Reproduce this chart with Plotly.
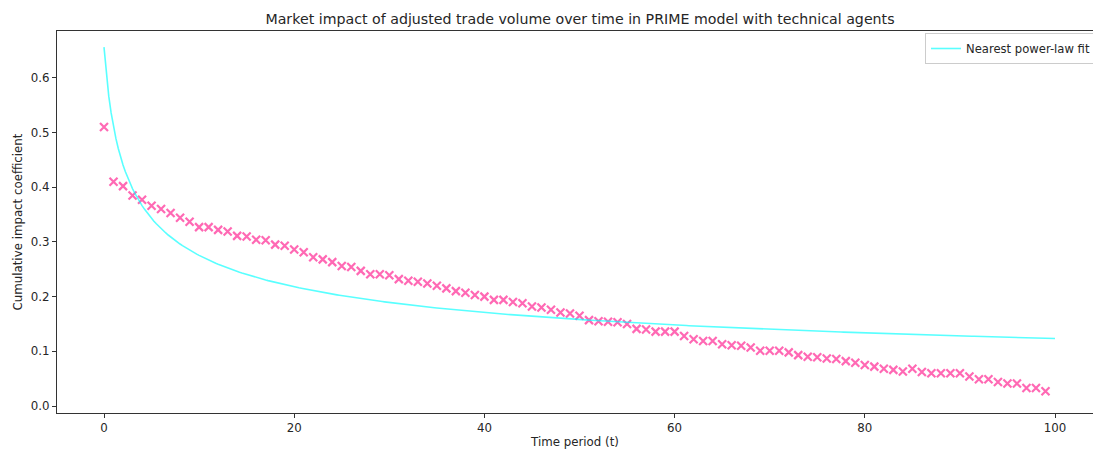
import numpy as np
import plotly.graph_objects as go

# Time periods for the observed coefficients
time_period = list(range(100))

# Observed cumulative impact coefficient per period
impact = [
    0.510, 0.410, 0.402, 0.385, 0.377, 0.366, 0.360, 0.353, 0.344, 0.337,
    0.327, 0.327, 0.322, 0.319, 0.311, 0.310, 0.304, 0.303, 0.295, 0.293,
    0.286, 0.281, 0.272, 0.268, 0.263, 0.256, 0.254, 0.247, 0.241, 0.241,
    0.239, 0.232, 0.229, 0.227, 0.224, 0.220, 0.215, 0.210, 0.207, 0.203,
    0.200, 0.194, 0.194, 0.190, 0.188, 0.182, 0.180, 0.176, 0.171, 0.169,
    0.165, 0.157, 0.155, 0.154, 0.153, 0.150, 0.141, 0.140, 0.136, 0.136,
    0.136, 0.128, 0.122, 0.119, 0.119, 0.113, 0.111, 0.110, 0.107, 0.101,
    0.101, 0.101, 0.098, 0.093, 0.090, 0.089, 0.087, 0.086, 0.082, 0.079,
    0.075, 0.072, 0.068, 0.066, 0.063, 0.068, 0.062, 0.060, 0.060, 0.060,
    0.060, 0.054, 0.049, 0.049, 0.044, 0.041, 0.041, 0.033, 0.033, 0.027,
]

# Nearest power-law fit: amplitude * (t + 1) ** (-exponent)
FIT_AMPLITUDE = 0.656
FIT_EXPONENT = 0.362
fit_t = np.linspace(0, 100, 401)
fit_values = FIT_AMPLITUDE * (fit_t + 1) ** (-FIT_EXPONENT)

x_ticks = [0, 20, 40, 60, 80, 100]
y_ticks = [0.0, 0.1, 0.2, 0.3, 0.4, 0.5, 0.6]

FONT = "DejaVu Sans"
TEXT_COLOR = "#262626"
AXIS_COLOR = "#333333"
SMALL = 11.8

fig = go.Figure()

fig.add_trace(go.Scatter(
    x=time_period, y=impact, mode="markers",
    marker=dict(symbol="x-thin", size=8, color="rgba(255,105,180,0)",
                line=dict(color="#ff69b4", width=2.2)),
    showlegend=False, hoverinfo="x+y",
))

fig.add_trace(go.Scatter(
    x=fit_t, y=fit_values, mode="lines",
    line=dict(color="rgba(0,255,255,0.65)", width=1.6),
    name="Nearest power-law fit",
))

fig.update_layout(
    width=1093, height=449,
    margin=dict(l=57, r=0, t=31, b=36, autoexpand=False),
    plot_bgcolor="white", paper_bgcolor="white",
    font=dict(family=FONT, size=SMALL, color=TEXT_COLOR),
    title=dict(
        text="Market impact of adjusted trade volume over time in PRIME model with technical agents",
        font=dict(family=FONT, size=14.2, color=TEXT_COLOR),
        x=(580 - 57) / 1036, xref="paper", xanchor="center",
        y=1 - 19 / 449, yref="container", yanchor="middle",
    ),
    legend=dict(
        x=(925 - 57) / 1036, y=1 - 2 / 382, xanchor="left", yanchor="top",
        bgcolor="rgba(255,255,255,0.8)", bordercolor="#cccccc", borderwidth=1,
        font=dict(family=FONT, size=11.6, color=TEXT_COLOR),
        itemwidth=30,
    ),
    xaxis=dict(
        range=[-47 / 9.51, -47 / 9.51 + 1036 / 9.51],
        tickvals=x_ticks, ticktext=[str(v) for v in x_ticks],
        showgrid=False, zeroline=False,
        showline=True, linecolor=AXIS_COLOR, linewidth=1, mirror=True,
        ticks="outside", ticklen=4, tickcolor=AXIS_COLOR, tickwidth=1,
        tickfont=dict(family=FONT, size=SMALL, color=TEXT_COLOR),
        title=dict(text="Time period (t)", standoff=3,
                   font=dict(family=FONT, size=SMALL, color=TEXT_COLOR)),
    ),
    yaxis=dict(
        range=[-7 / 547, 375 / 547],
        tickvals=y_ticks, ticktext=[f"{v:.1f}" for v in y_ticks],
        showgrid=False, zeroline=False,
        showline=True, linecolor=AXIS_COLOR, linewidth=1, mirror=False,
        ticks="outside", ticklen=4, tickcolor=AXIS_COLOR, tickwidth=1,
        tickfont=dict(family=FONT, size=SMALL, color=TEXT_COLOR),
        title=dict(text="Cumulative impact coefficient", standoff=5,
                   font=dict(family=FONT, size=SMALL, color=TEXT_COLOR)),
    ),
)

fig.write_html("out.html")
